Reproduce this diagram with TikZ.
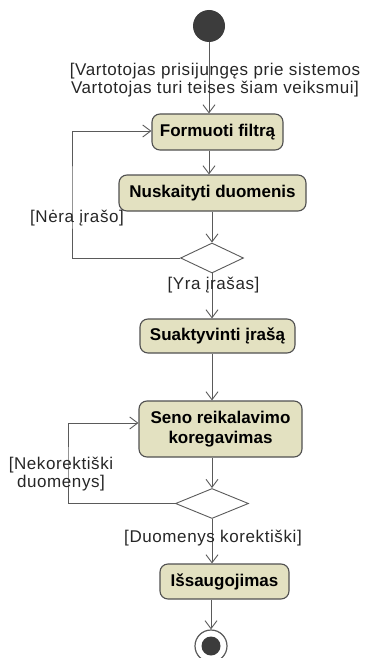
\documentclass[tikz,border=0pt]{standalone}
\usepackage{fontspec}
\setmainfont{Liberation Sans}
\usetikzlibrary{arrows.meta,shapes.geometric,calc}
\definecolor{actfill}{RGB}{227,225,193}
\definecolor{actline}{RGB}{80,80,80}
\definecolor{flowline}{RGB}{90,90,90}
\definecolor{startfill}{RGB}{60,60,60}
\newfontfamily\guardfont[LetterSpace=3.5]{Liberation Sans}
\begin{document}
\begin{tikzpicture}[x=1pt,y=-1pt,
  action/.style={draw=actline,line width=1.1pt,fill=actfill,rounded corners=8pt,
    font=\fontsize{17}{19}\selectfont\bfseries,align=center,inner sep=0pt},
  decision/.style={draw=flowline,line width=0.9pt,fill=white,diamond,inner sep=0pt,
    minimum width=#1,minimum height=30pt,aspect=2},
  guard/.style={font=\guardfont\fontsize{17}{18.5}\selectfont,align=center,inner sep=0pt,text=black!85},
  flow/.style={draw=flowline,line width=0.9pt,-{Straight Barb[length=8pt,width=12pt,line width=0.9pt]}}]
\useasboundingbox (0,0) rectangle (365,658);

% start and end points
\node[circle,fill=startfill,minimum size=32pt,inner sep=0pt] (init) at (209,26) {};
\node[circle,draw=flowline,line width=1.2pt,fill=white,minimum size=32pt,inner sep=0pt] (final) at (211,646) {};
\node[circle,fill=startfill,minimum size=19pt,inner sep=0pt] (finalcore) at (final) {};

% activities
\node[action,minimum width=131pt,minimum height=36pt] (formuoti) at (217.5,132) {Formuoti filtrą};
\node[action,minimum width=187pt,minimum height=36pt] (nuskaityti) at (212.5,193) {Nuskaityti duomenis};
\node[action,minimum width=155pt,minimum height=34pt] (suaktyvinti) at (217.5,336) {Suaktyvinti įrašą};
\node[action,minimum width=163pt,minimum height=56pt] (seno) at (220.5,429) {Seno reikalavimo\\[1pt]koregavimas};
\node[action,minimum width=129pt,minimum height=35pt] (issaug) at (224.5,581.5) {Išsaugojimas};

% decisions
\node[decision=63pt] (dec1) at (212,258) {};
\node[decision=73pt] (dec2) at (212,503.5) {};

% loop corners
\coordinate (loopA) at (72,200);
\coordinate (loopB) at (68,470);

% connectors
\draw[flow] (init.south) -- (init |- formuoti.north);
\draw[flow] (init |- formuoti.south) -- (init |- nuskaityti.north);
\draw[flow] (dec1 |- nuskaityti.south) -- (dec1.north);
\draw[flow] (dec1.south) -- (dec1 |- suaktyvinti.north);
\draw[flow] (dec1 |- suaktyvinti.south) -- (dec1 |- seno.north);
\draw[flow] (dec2 |- seno.south) -- (dec2.north);
\draw[flow] (dec2.south) -- (dec2 |- issaug.north);
\draw[flow] (final |- issaug.south) -- (final.north);
\draw[flow] (dec1.west) -| (loopA) |- ($(formuoti.west)+(0,-1)$);
\draw[flow] (dec2.west) -| (loopB) |- ($(seno.west)+(0,-6)$);

% guards
\node[guard] (g0) at (215,80) {[Vartotojas prisijungęs prie sistemos\\Vartotojas turi teises šiam veiksmui]};
\node[guard] (g1) at (77,218) {[Nėra įrašo]};
\node[guard] (g2) at (213.5,285) {[Yra įrašas]};
\node[guard] (g3) at (61,474) {[Nekorektiški\\duomenys]};
\node[guard] (g4) at (213,538) {[Duomenys korektiški]};
\end{tikzpicture}
\end{document}
